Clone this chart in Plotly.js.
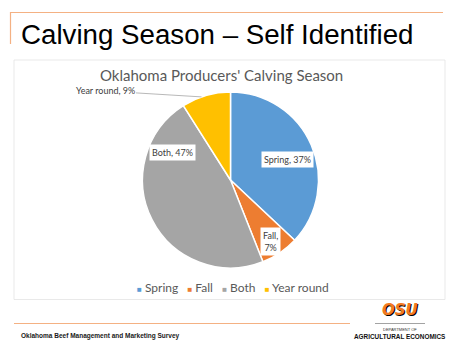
<!DOCTYPE html>
<html>
<head>
<meta charset="utf-8">
<script src="https://cdn.plot.ly/plotly-3.0.1.min.js"></script>
<style>
html,body{margin:0;padding:0;background:#fff;}
#chart{width:462px;height:355px;}
</style>
</head>
<body>
<div id="chart"></div>
<script>
// ---- data ----
var categories = ["Spring", "Fall", "Both", "Year round"];
var shares = [37, 7, 47, 9];
var sliceColors = ["#5B9BD5", "#ED7D31", "#A5A5A5", "#FFC000"];
var slideTitle = "Calving Season \u2013 Self Identified";
var chartTitle = "Oklahoma Producers' Calving Season";
var footerText = "Oklahoma Beef Management and Marketing Survey";

// ---- layout constants (pixels) ----
var W = 462, H = 355;
var CX = 230.5, CY = 180, R = 88;
// label placement: radius fraction, angle offset (deg), line breaks
var labelPlace = [
  {rf: 0.69, da: 4, br: false},
  {rf: 0.83, da: 1, br: true},
  {rf: 0.73, da: 52, br: false},
  {outside: true, tx: 133, ty: 91}
];

function px(x){ return x / W; }
function py(y){ return 1 - y / H; }

var total = shares.reduce(function(a,b){return a+b;}, 0);
var annotations = [];
var cum = 0;
var dataFont = {family: "Lato, 'Open Sans', sans-serif", size: 9, color: "#404040"};
shares.forEach(function(v, i){
  var mid = (cum + v / 2) / total * 360;
  cum += v;
  var lp = labelPlace[i];
  var txt = categories[i] + "," + (lp.br ? "<br>" : " ") + Math.round(v / total * 100) + "%";
  if (lp.outside) {
    var a = (mid - 3) * Math.PI / 180;
    var ex = CX + R * Math.sin(a), ey = CY - R * Math.cos(a);
    annotations.push({
      xref: "paper", yref: "paper", x: px(ex), y: py(ey),
      text: txt, font: dataFont, showarrow: true, arrowhead: 0,
      arrowwidth: 0.8, arrowcolor: "#A6A6A6", standoff: 0,
      axref: "pixel", ayref: "pixel",
      ax: (lp.tx - 28) - ex, ay: lp.ty - ey
    });
  } else {
    var b = (mid + lp.da) * Math.PI / 180;
    var lx = CX + lp.rf * R * Math.sin(b), ly = CY - lp.rf * R * Math.cos(b);
    annotations.push({
      xref: "paper", yref: "paper", x: px(lx), y: py(ly),
      xanchor: "center", yanchor: "middle",
      text: txt, font: dataFont, showarrow: false,
      bgcolor: "#FFFFFF", borderpad: 2, align: "center"
    });
  }
});

// slide title
annotations.push({
  xref: "paper", yref: "paper", x: px(19), y: py(35), xanchor: "left", yanchor: "middle",
  text: slideTitle, showarrow: false,
  font: {family: "'Liberation Sans', Arial, sans-serif", size: 27.7, color: "#000000"}
});
// chart title
annotations.push({
  xref: "paper", yref: "paper", x: px(221), y: py(75), xanchor: "center", yanchor: "middle",
  text: chartTitle, showarrow: false,
  font: {family: "Lato, 'Open Sans', sans-serif", size: 15, color: "#595959"}
});
// custom legend line
var legendParts = categories.map(function(c, i){
  return '<span style="color:' + sliceColors[i] + ';font-size:8px">\u25A0</span>&nbsp;' + c;
});
annotations.push({
  xref: "paper", yref: "paper", x: px(CX + 2), y: py(287), xanchor: "center", yanchor: "middle",
  text: legendParts.join("&nbsp;&nbsp;&nbsp;"), showarrow: false,
  font: {family: "Lato, 'Open Sans', sans-serif", size: 12, color: "#595959"}
});
// footer
annotations.push({
  xref: "paper", yref: "paper", x: px(19), y: py(336), xanchor: "left", yanchor: "middle",
  text: "<b>" + footerText + "</b>", showarrow: false,
  font: {family: "'Liberation Sans Narrow', 'Liberation Sans', Arial, sans-serif", size: 6.5, color: "#1a1a1a"}
});
// logo text
annotations.push({
  xref: "paper", yref: "paper", x: px(400.5), y: py(310.5), xanchor: "center", yanchor: "middle",
  text: "<b><i>OSU</i></b>", showarrow: false,
  font: {family: "'DejaVu Sans', sans-serif", size: 15, color: "#000000"}
});
annotations.push({
  xref: "paper", yref: "paper", x: px(399.5), y: py(309.5), xanchor: "center", yanchor: "middle",
  text: "<b><i>OSU</i></b>", showarrow: false,
  font: {family: "'DejaVu Sans', sans-serif", size: 15, color: "#F47A20"}
});
annotations.push({
  xref: "paper", yref: "paper", x: px(399.5), y: py(329), xanchor: "center", yanchor: "middle",
  text: "DEPARTMENT OF", showarrow: false,
  font: {family: "'Liberation Sans', Arial, sans-serif", size: 4, color: "#333333"}
});
annotations.push({
  xref: "paper", yref: "paper", x: px(399.5), y: py(336.5), xanchor: "center", yanchor: "middle",
  text: "<b>AGRICULTURAL ECONOMICS</b>", showarrow: false,
  font: {family: "'Liberation Sans', Arial, sans-serif", size: 6.4, color: "#111111"}
});

var shapes = [
  // orange top rule and left tick
  {type: "line", xref: "paper", yref: "paper", x0: px(10), x1: px(443), y0: py(12.5), y1: py(12.5),
   line: {color: "#F4B183", width: 1.2}},
  {type: "line", xref: "paper", yref: "paper", x0: px(10.5), x1: px(10.5), y0: py(12), y1: py(44),
   line: {color: "#F4B183", width: 1.2}},
  // chart area box
  {type: "rect", xref: "paper", yref: "paper", x0: px(14), x1: px(445), y0: py(60), y1: py(299.5),
   line: {color: "#E3E3E3", width: 0.8}, fillcolor: "rgba(0,0,0,0)"},
  // footer rule
  {type: "line", xref: "paper", yref: "paper", x0: px(14), x1: px(350), y0: py(323.5), y1: py(323.5),
   line: {color: "#F4B183", width: 1.2}},
  // logo rule
  {type: "line", xref: "paper", yref: "paper", x0: px(375), x1: px(425), y0: py(323.5), y1: py(323.5),
   line: {color: "#8C8C8C", width: 0.8}}
];

var trace = {
  type: "pie",
  labels: categories,
  values: shares,
  sort: false,
  direction: "clockwise",
  rotation: 0,
  textinfo: "none",
  hoverinfo: "label+percent",
  marker: {colors: sliceColors, line: {color: "#FFFFFF", width: 1.5}},
  domain: {x: [px(CX - R), px(CX + R)], y: [py(CY + R), py(CY - R)]},
  showlegend: false
};

var layout = {
  width: W, height: H,
  margin: {l: 0, r: 0, t: 0, b: 0},
  paper_bgcolor: "#FFFFFF",
  showlegend: false,
  annotations: annotations,
  shapes: shapes
};

Plotly.newPlot("chart", [trace], layout, {displayModeBar: false, staticPlot: true});
</script>
</body>
</html>
